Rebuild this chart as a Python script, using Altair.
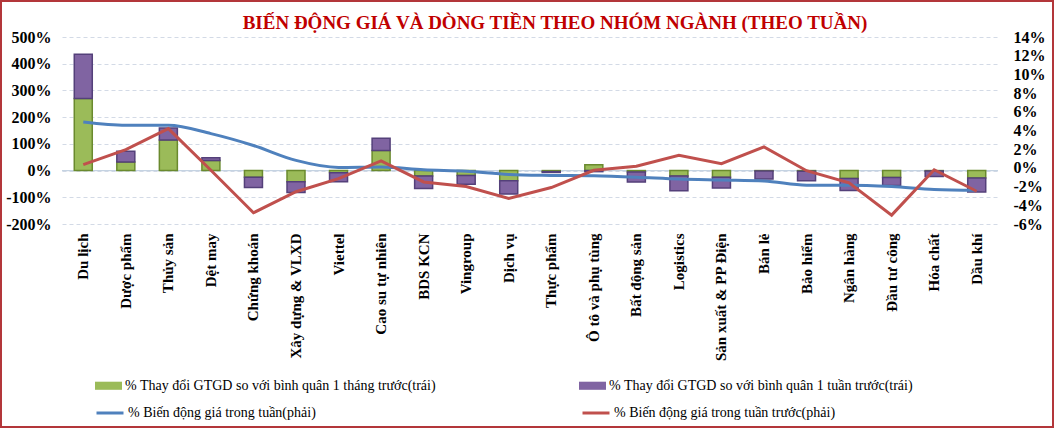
import altair as alt
import pandas as pd

categories = ["Du lịch", "Dược phẩm", "Thủy sản", "Dệt may", "Chứng khoán", "Xây dựng & VLXD",
              "Viettel", "Cao su tự nhiên", "BDS KCN", "Vingroup", "Dịch vụ", "Thực phẩm",
              "Ô tô và phụ tùng", "Bất động sản", "Logistics", "Sản xuất & PP Điện", "Bán lẻ",
              "Bảo hiểm", "Ngân hàng", "Đầu tư công", "Hóa chất", "Dầu khí"]
thang = [270, 32, 114, 38, -25, -42, -8, 75, -20, -18, -38, -4, 22, -5, -20, -25, -2, -3, -30, -26, -2, -28]
tuan = [165, 40, 45, 10, -38, -40, -34, 46, -47, -33, -50, -3, -4, -38, -56, -40, -30, -35, -45, -30, -20, -52]
gia_tuan = [4.9, 4.55, 4.55, 3.67, 2.4, 0.8, 0.05, 0.1, -0.2, -0.35, -0.7, -0.8, -0.85, -1.0, -1.2,
            -1.3, -1.4, -1.85, -1.85, -2.0, -2.3, -2.4]
gia_truoc = [0.35, 1.95, 4.2, -0.25, -4.8, -2.55, -1.15, 0.75, -1.5, -2.0, -3.27, -2.1, -0.25, 0.18,
             1.35, 0.46, 2.25, -0.3, -1.6, -5.05, -0.2, -2.5]

bar_names = ["% Thay đổi GTGD so với bình quân 1 tháng trước(trái)",
             "% Thay đổi GTGD so với bình quân 1 tuần trước(trái)"]
line_names = ["% Biến động giá trong tuần(phải)", "% Biến động giá trong tuần trước(phải)"]
title_text = "BIẾN ĐỘNG GIÁ VÀ DÒNG TIỀN THEO NHÓM NGÀNH (THEO TUẦN)"

bar_rows = []
for c, a, b in zip(categories, thang, tuan):
    bar_rows.append({"cat": c, "series": bar_names[0], "ord": 0, "v": a})
    bar_rows.append({"cat": c, "series": bar_names[1], "ord": 1, "v": b})
bars_df = pd.DataFrame(bar_rows)

blue_df = pd.DataFrame({"cat": categories, "series": line_names[0], "v": gia_tuan})
red_df = pd.DataFrame({"cat": categories, "series": line_names[1], "v": gia_truoc})

FONT = "Liberation Serif"
W, H = 936, 187

xenc = alt.X("cat:N", sort=categories,
             scale=alt.Scale(paddingInner=0, paddingOuter=0),
             axis=alt.Axis(title=None, labelAngle=270, labelFont=FONT, labelFontSize=15,
                           labelFontWeight="bold", labelColor="black", labelPadding=9,
                           domain=False, ticks=False, grid=False, labelLimit=300))

left_scale = alt.Scale(domain=[-200, 500], nice=False, zero=False)
left_axis = alt.Axis(title=None, values=list(range(-200, 501, 100)),
                     labelExpr="datum.value + '%'", labelFont=FONT, labelFontSize=16,
                     labelFontWeight="bold", labelColor="black", labelPadding=11,
                     labelOverlap=False, domain=False, ticks=False, grid=True,
                     gridColor="#D3DAE6", gridDash=[4, 3], gridWidth=1)

bars = alt.Chart(bars_df).mark_bar(size=18, strokeWidth=1.5).encode(
    x=xenc,
    y=alt.Y("v:Q", stack="zero", scale=left_scale, axis=left_axis),
    color=alt.Color("series:N", scale=alt.Scale(domain=bar_names, range=["#9BBB59", "#8064A2"]),
                    legend=alt.Legend(orient="none", legendX=33, legendY=335, direction="horizontal",
                                      columns=2, columnPadding=143, title=None, padding=0,
                                      symbolType="M-1,-0.3H1V0.3H-1Z", symbolSize=729,
                                      symbolStrokeWidth=0, labelFont=FONT, labelFontSize=14,
                                      labelColor="black", labelOffset=3, labelLimit=500)),
    stroke=alt.Stroke("series:N", scale=alt.Scale(domain=bar_names, range=["#6A8A2E", "#54407A"]),
                      legend=None),
    order=alt.Order("ord:Q"),
)

zero = alt.Chart(pd.DataFrame({"v": [0]})).mark_rule(color="#C5D3E2", strokeWidth=1.2).encode(
    y=alt.Y("v:Q", scale=left_scale, axis=left_axis)
)

left_layer = alt.layer(zero, bars)

right_scale = alt.Scale(domain=[-6, 14], nice=False, zero=False)
right_axis = alt.Axis(title=None, orient="right", values=list(range(-6, 15, 2)),
                      labelExpr="datum.value + '%'", labelFont=FONT, labelFontSize=16,
                      labelFontWeight="bold", labelColor="black", labelPadding=15,
                      labelOverlap=False, domain=False, ticks=False, grid=False)
line_color = alt.Color("series:N", scale=alt.Scale(domain=line_names, range=["#4F81BD", "#C0504D"]),
                       legend=alt.Legend(orient="none", legendX=33, legendY=361, direction="horizontal",
                                         columns=2, columnPadding=260, title=None, padding=0,
                                         symbolType="stroke", symbolSize=729, symbolStrokeWidth=3,
                                         labelFont=FONT, labelFontSize=14, labelColor="black",
                                         labelOffset=3, labelLimit=500))

blue = alt.Chart(blue_df).mark_line(strokeWidth=3, interpolate="monotone").encode(
    x=alt.X("cat:N", sort=categories),
    y=alt.Y("v:Q", scale=right_scale, axis=right_axis),
    color=line_color,
)
red = alt.Chart(red_df).mark_line(strokeWidth=3).encode(
    x=alt.X("cat:N", sort=categories),
    y=alt.Y("v:Q", scale=right_scale, axis=right_axis),
    color=line_color,
)
right_layer = alt.layer(blue, red)

border = alt.Chart(pd.DataFrame({"a": [0]})).mark_rect(fill=None, stroke="#B3363A", strokeWidth=2).encode(
    x=alt.value(-61), x2=alt.value(1054 - 62 - 1),
    y=alt.value(-36), y2=alt.value(428 - 37 - 1),
)

chart = alt.layer(border, left_layer, right_layer).resolve_scale(
    y="independent", color="independent", stroke="independent"
).properties(
    width=W, height=H,
    padding={"left": 62, "top": 37, "right": 56, "bottom": 204},
    autosize="none",
    title=alt.TitleParams(title_text, font=FONT, fontSize=19, fontWeight="bold", color="#C00000",
                          anchor="middle", dx=25, offset=-33),
).configure_view(stroke=None)

chart.save("out.html", embed_options={"renderer": "svg", "actions": False})
